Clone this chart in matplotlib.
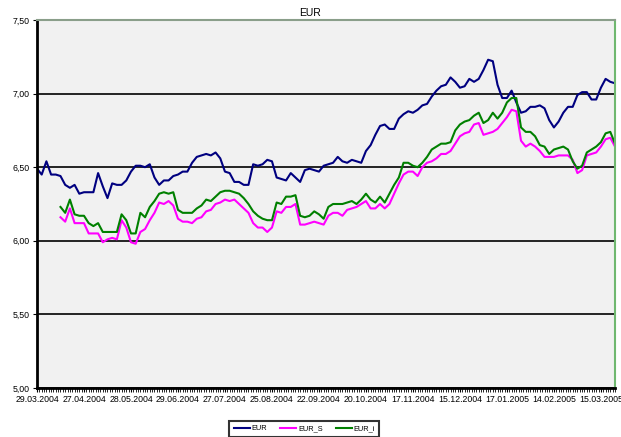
import numpy as np
import matplotlib
matplotlib.use("Agg")
import matplotlib.pyplot as plt
from matplotlib.ticker import MultipleLocator, FuncFormatter

plt.rcParams["font.family"] = ["Liberation Sans", "DejaVu Sans"]

# category axis: one slot per trading day, values read every 2nd day
date_labels = ["29.03.2004", "27.04.2004", "28.05.2004", "29.06.2004",
               "27.07.2004", "25.08.2004", "22.09.2004", "20.10.2004",
               "17.11.2004", "15.12.2004", "17.01.2005", "14.02.2005",
               "15.03.2005"]
label_step = 20
n_days = 247

eur = [
    6.49, 6.45, 6.54, 6.45, 6.45, 6.44, 6.38, 6.36, 6.38, 6.32,
    6.33, 6.33, 6.33, 6.46, 6.37, 6.29, 6.39, 6.38, 6.38, 6.41,
    6.47, 6.51, 6.51, 6.50, 6.52, 6.43, 6.38, 6.41, 6.41, 6.44,
    6.45, 6.47, 6.47, 6.53, 6.57, 6.58, 6.59, 6.58, 6.60, 6.56,
    6.47, 6.46, 6.40, 6.40, 6.38, 6.38, 6.52, 6.51, 6.52, 6.55,
    6.54, 6.43, 6.42, 6.41, 6.46, 6.43, 6.40, 6.48, 6.49, 6.48,
    6.47, 6.51, 6.52, 6.53, 6.57, 6.54, 6.53, 6.55, 6.54, 6.53,
    6.61, 6.65, 6.72, 6.78, 6.79, 6.76, 6.76, 6.83, 6.86, 6.88,
    6.87, 6.89, 6.92, 6.93, 6.98, 7.02, 7.05, 7.06, 7.11, 7.08,
    7.04, 7.05, 7.10, 7.08, 7.10, 7.16, 7.23, 7.22, 7.06, 6.97,
    6.97, 7.02, 6.94, 6.87, 6.88, 6.91, 6.91, 6.92, 6.90, 6.82,
    6.77, 6.81, 6.87, 6.91, 6.91, 6.99, 7.01, 7.01, 6.96, 6.96,
    7.04, 7.10, 7.08, 7.07,
]

# EUR_S and EUR_i start 10 trading days later
eur_s = [
    6.16, 6.13, 6.22, 6.12, 6.12,
    6.12, 6.05, 6.05, 6.05, 5.99, 6.01, 6.02, 6.01, 6.14, 6.09,
    5.99, 5.98, 6.06, 6.08, 6.14, 6.19, 6.26, 6.25, 6.27, 6.24,
    6.15, 6.13, 6.13, 6.12, 6.15, 6.16, 6.20, 6.21, 6.25, 6.26,
    6.28, 6.27, 6.28, 6.25, 6.22, 6.19, 6.12, 6.09, 6.09, 6.06,
    6.09, 6.20, 6.19, 6.23, 6.23, 6.25, 6.11, 6.11, 6.12, 6.13,
    6.12, 6.11, 6.17, 6.19, 6.19, 6.17, 6.21, 6.22, 6.23, 6.25,
    6.27, 6.22, 6.22, 6.25, 6.22, 6.25, 6.32, 6.39, 6.45, 6.47,
    6.47, 6.44, 6.50, 6.53, 6.54, 6.56, 6.59, 6.59, 6.61, 6.66,
    6.71, 6.73, 6.74, 6.79, 6.80, 6.72, 6.73, 6.74, 6.76, 6.80,
    6.84, 6.89, 6.88, 6.68, 6.64, 6.66, 6.64, 6.61, 6.57, 6.57,
    6.57, 6.58, 6.58, 6.58, 6.55, 6.46, 6.48, 6.58, 6.59, 6.60,
    6.64, 6.69, 6.70, 6.64,
]

eur_i = [
    6.23, 6.19, 6.28, 6.18, 6.17,
    6.17, 6.12, 6.10, 6.12, 6.06, 6.06, 6.06, 6.06, 6.18, 6.14,
    6.05, 6.05, 6.19, 6.16, 6.23, 6.27, 6.32, 6.33, 6.32, 6.33,
    6.21, 6.19, 6.19, 6.19, 6.22, 6.24, 6.28, 6.27, 6.30, 6.33,
    6.34, 6.34, 6.33, 6.32, 6.29, 6.25, 6.20, 6.17, 6.15, 6.14,
    6.14, 6.26, 6.25, 6.30, 6.30, 6.31, 6.17, 6.16, 6.17, 6.20,
    6.18, 6.15, 6.23, 6.25, 6.25, 6.25, 6.26, 6.27, 6.25, 6.28,
    6.32, 6.28, 6.26, 6.30, 6.26, 6.32, 6.38, 6.43, 6.53, 6.53,
    6.51, 6.50, 6.53, 6.57, 6.62, 6.64, 6.66, 6.66, 6.67, 6.75,
    6.79, 6.81, 6.82, 6.85, 6.87, 6.80, 6.82, 6.87, 6.83, 6.87,
    6.94, 6.97, 6.97, 6.77, 6.74, 6.74, 6.71, 6.65, 6.64, 6.59,
    6.62, 6.63, 6.64, 6.62, 6.54, 6.49, 6.51, 6.60, 6.62, 6.64,
    6.67, 6.73, 6.74, 6.66,
]

x_eur = np.arange(0, n_days, 2)[:len(eur)]
x_sub = np.arange(10, n_days, 2)[:len(eur_s)]

fig = plt.figure(figsize=(6.21, 4.37), dpi=100)
ax = fig.add_axes([37 / 621, 1 - 388 / 437, 578 / 621, 368 / 437])
ax.set_facecolor("#f1f1f1")

ax.plot(x_eur, eur, color="#000080", lw=1.5, label="EUR")
ax.plot(x_sub, eur_s, color="#ff00ff", lw=1.5, label="EUR_S")
ax.plot(x_sub, eur_i, color="#008000", lw=1.5, label="EUR_i")

ax.set_xlim(0, n_days - 1)
ax.set_ylim(5.0, 7.5)

ax.yaxis.set_major_locator(MultipleLocator(0.5))
ax.yaxis.set_major_formatter(FuncFormatter(lambda v, p: f"{v:.2f}".replace(".", ",")))
ax.yaxis.grid(True, color="black", lw=1.2)
ax.set_axisbelow(True)

ax.set_xticks(np.arange(0, len(date_labels) * label_step, label_step))
ax.set_xticklabels(date_labels)
ax.xaxis.set_minor_locator(MultipleLocator(1))

ax.tick_params(axis="both", which="both", direction="out", length=3, width=0.8,
               color="black", labelsize=6.3, pad=2)
ax.tick_params(axis="x", which="minor", length=3, width=0.6)

for side in ("left", "bottom"):
    ax.spines[side].set_color("black")
    ax.spines[side].set_linewidth(2)
ax.spines["top"].set_color("#8a9e8a")
ax.spines["top"].set_linewidth(1.5)
ax.spines["right"].set_color("#70b870")
ax.spines["right"].set_linewidth(1.5)

fig.text(0.5, 1 - 13 / 437, "EUR", ha="center", va="center", fontsize=7.5)

leg = fig.legend(loc="upper center", bbox_to_anchor=(0.49, 1 - 417 / 437),
                 ncol=3, fontsize=5.3, frameon=True, fancybox=False,
                 handlelength=2.2, columnspacing=1.8, handletextpad=0.2,
                 borderpad=0.6)
leg.get_frame().set_edgecolor("black")
leg.get_frame().set_linewidth(1.5)

fig.savefig("out.png", dpi=100)
